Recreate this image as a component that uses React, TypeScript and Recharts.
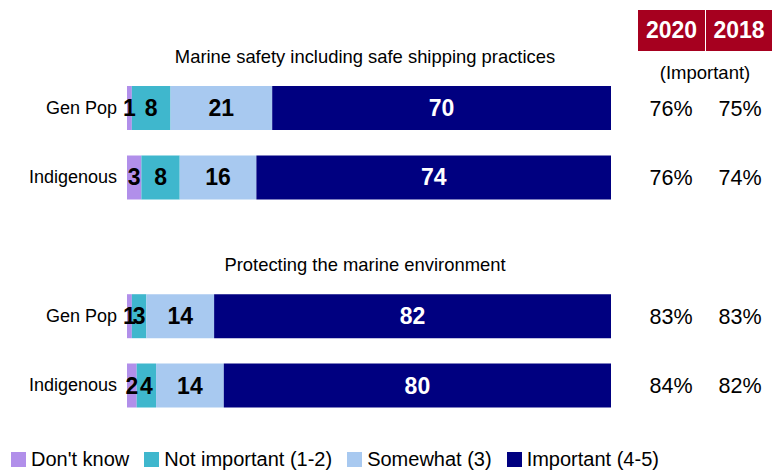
import { BarChart, Bar, XAxis, YAxis, LabelList } from "recharts";

const rowIds = ["g1", "i1", "gap", "g2", "i2"];
const rowLabels = ["Gen Pop", "Indigenous", "", "Gen Pop", "Indigenous"];
const dontKnow = [1, 3, 0, 1, 2];
const notImportant = [8, 8, 0, 3, 4];
const somewhat = [21, 16, 0, 14, 14];
const important = [70, 74, 0, 82, 80];
const important2020 = ["76%", "76%", "", "83%", "84%"];
const important2018 = ["75%", "74%", "", "83%", "82%"];
const groupTitles = ["Marine safety including safe shipping practices", "Protecting the marine environment"];
const yearHeaders = ["2020", "2018"];

const series = [
  { key: "dontKnow", name: "Don't know", color: "#b18fea", text: "#000" },
  { key: "notImportant", name: "Not important (1-2)", color: "#3fb7cd", text: "#000" },
  { key: "somewhat", name: "Somewhat (3)", color: "#a8c9f0", text: "#000" },
  { key: "important", name: "Important (4-5)", color: "#000080", text: "#fff" },
];

const data = rowIds.map((id, i) => ({
  id,
  dontKnow: dontKnow[i],
  notImportant: notImportant[i],
  somewhat: somewhat[i],
  important: important[i],
}));

const FONT = "'Liberation Sans', Arial, sans-serif";
const NARROW = "'Liberation Sans Narrow', 'Arial Narrow', 'Liberation Sans', sans-serif";

function LeftTick(props: any) {
  const { y, payload } = props;
  const label = rowLabels[payload.index] ?? "";
  return (
    <text x={117} y={y} dy={6} textAnchor="end" fontSize={18} fill="#000" fontFamily={FONT}>
      {label}
    </text>
  );
}

function RightTick(props: any) {
  const { y, payload } = props;
  const i = payload.index;
  return (
    <g fontSize={21.5} fill="#000" fontFamily={FONT}>
      <text x={671} y={y} dy={8} textAnchor="middle">{important2020[i]}</text>
      <text x={740} y={y} dy={8} textAnchor="middle">{important2018[i]}</text>
    </g>
  );
}

function makeLabel(color: string) {
  return (props: any) => {
    const { x, y, width, height, value } = props;
    if (!value) return null;
    return (
      <text
        x={x + width / 2}
        y={y + height / 2}
        dy={8}
        textAnchor="middle"
        fontSize={23}
        fontWeight="bold"
        fill={color}
        fontFamily={FONT}
      >
        {value}
      </text>
    );
  };
}

export default function App() {
  return (
    <div style={{ position: "absolute", left: 0, top: 0, width: 772, height: 473, background: "#fff", fontFamily: FONT }}>
      <BarChart
        width={772}
        height={473}
        data={data}
        layout="vertical"
        stackOffset="expand"
        margin={{ top: 73, right: 0, bottom: 53, left: 0 }}
      >
        <XAxis type="number" hide domain={[0, 1]} />
        <YAxis yAxisId="left" type="category" dataKey="id" width={127} axisLine={false} tickLine={false} tick={<LeftTick />} interval={0} />
        <YAxis yAxisId="right" orientation="right" type="category" dataKey="id" width={161} axisLine={false} tickLine={false} tick={<RightTick />} interval={0} />
        {series.map((s) => (
          <Bar key={s.key} yAxisId="left" dataKey={s.key} stackId="a" fill={s.color} barSize={44} isAnimationActive={false}>
            <LabelList dataKey={s.key} content={makeLabel(s.text)} />
          </Bar>
        ))}
      </BarChart>

      {groupTitles.map((t, i) => (
        <div
          key={t}
          style={{ position: "absolute", left: 115, width: 500, top: i === 0 ? 45 : 253, textAlign: "center", fontSize: 18.4, lineHeight: "24px", color: "#000" }}
        >
          {t}
        </div>
      ))}

      {yearHeaders.map((h, i) => (
        <div
          key={h}
          style={{
            position: "absolute",
            left: i === 0 ? 638 : 706,
            top: 10,
            width: i === 0 ? 67 : 66,
            height: 41,
            background: "#a6001f",
            color: "#fff",
            fontWeight: "bold",
            fontFamily: NARROW,
            fontSize: 23,
            lineHeight: "41px",
            textAlign: "center",
          }}
        >
          {h}
        </div>
      ))}
      <div style={{ position: "absolute", left: 638, width: 134, top: 61, textAlign: "center", fontSize: 18.5, lineHeight: "24px", color: "#000" }}>
        (Important)
      </div>

      <div style={{ position: "absolute", left: 11, top: 446, display: "flex", alignItems: "center", fontSize: 20, lineHeight: "26px", color: "#000" }}>
        {series.map((s) => (
          <div key={s.key} style={{ display: "flex", alignItems: "center", marginRight: 15 }}>
            <span style={{ display: "inline-block", width: 15, height: 15, background: s.color, marginRight: 5 }} />
            <span>{s.name}</span>
          </div>
        ))}
      </div>
    </div>
  );
}
